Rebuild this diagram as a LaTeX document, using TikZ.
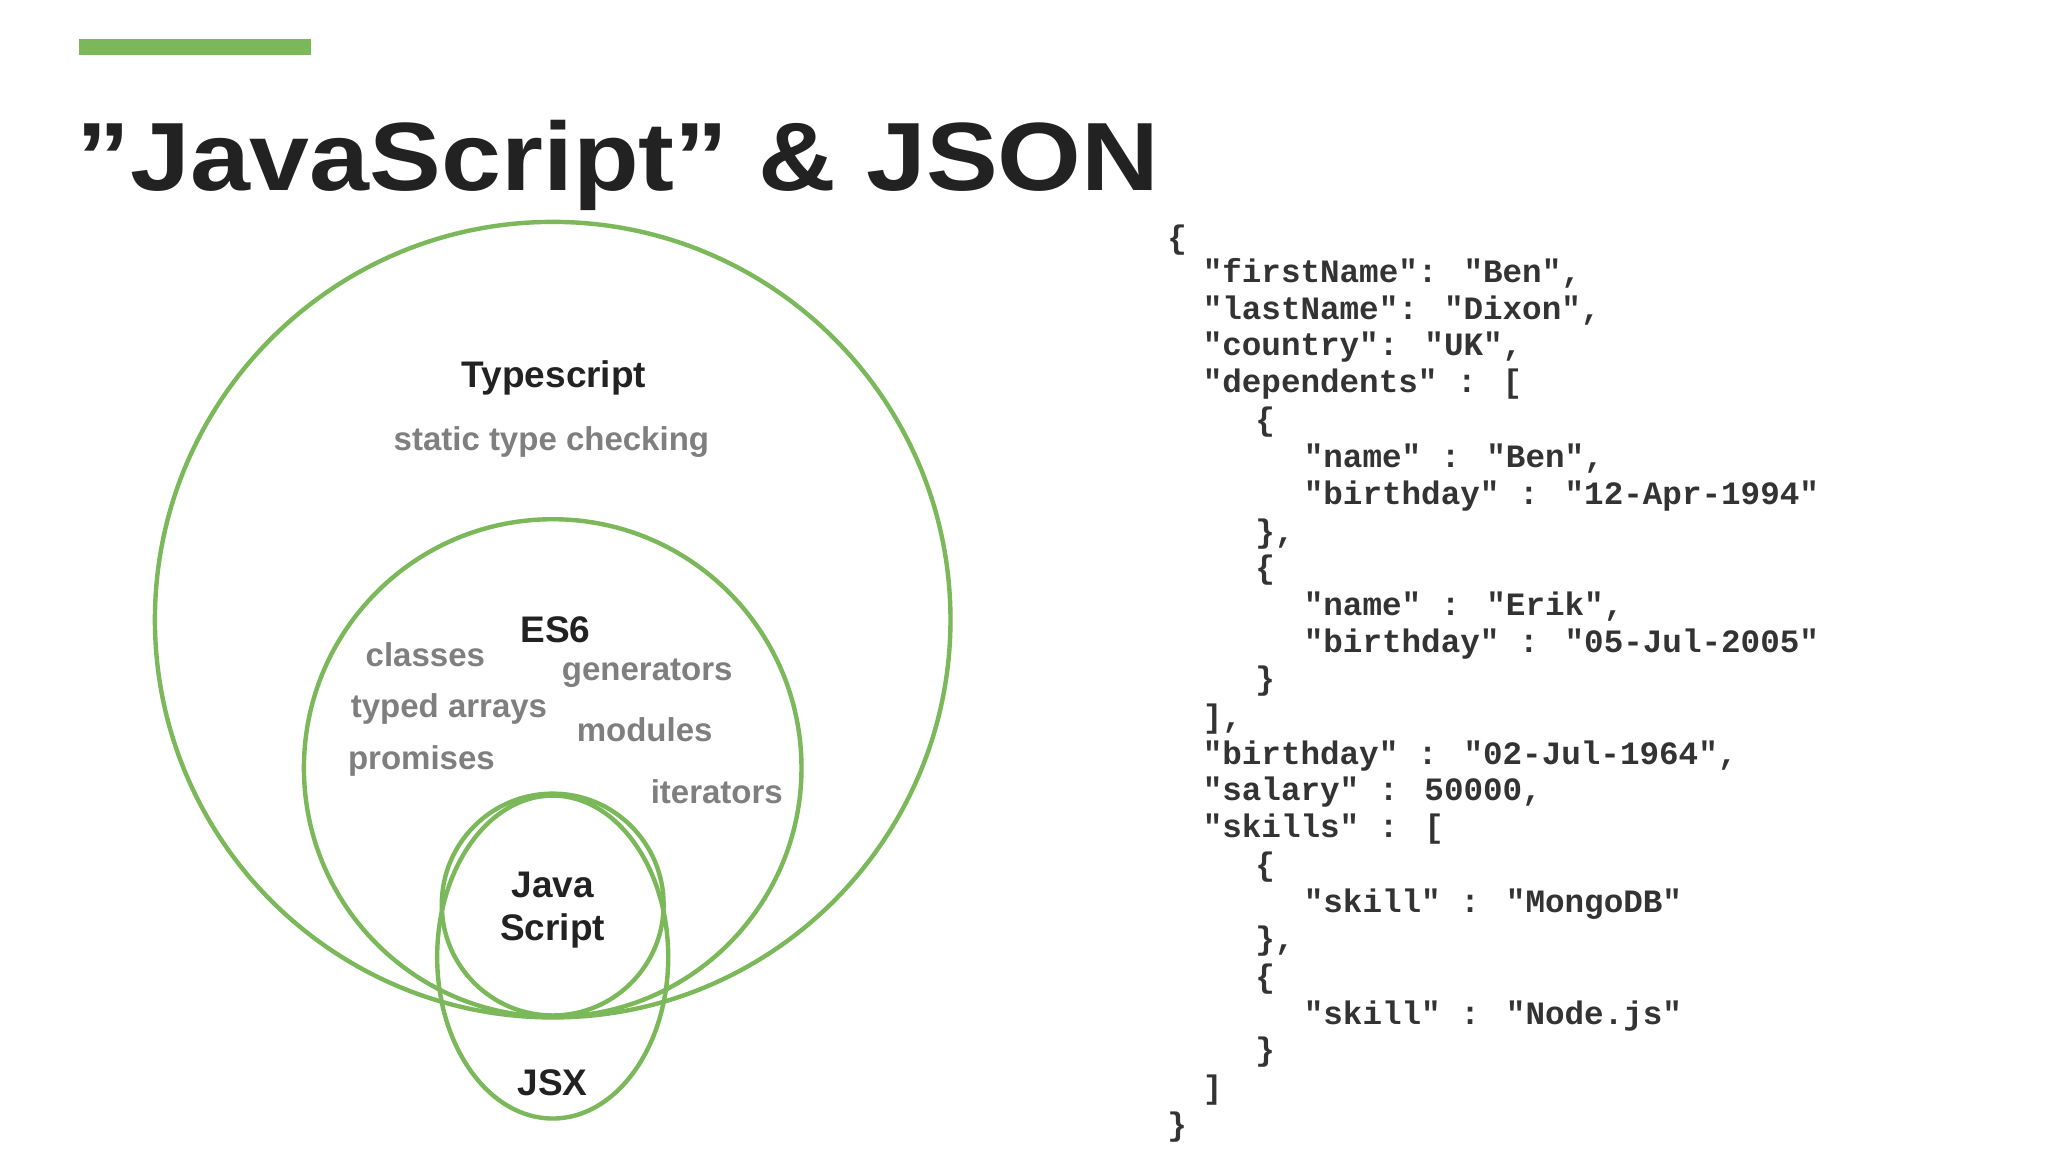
\documentclass[tikz,border=0pt]{standalone}
\usepackage{fontspec}
\setmainfont{Liberation Sans}
\newfontfamily\codefont{Liberation Mono}
\usetikzlibrary{shapes.geometric}
\definecolor{vgreen}{HTML}{7AB85A}
\definecolor{lbl}{HTML}{222222}
\definecolor{gry}{HTML}{7F7F7F}
\definecolor{code}{HTML}{333333}
\begin{document}
\begin{tikzpicture}[x=1.3128pt,y=-1.3128pt,
  ring/.style={circle,draw=vgreen,line width=4.4pt,inner sep=0pt},
  blk/.style={font=\fontsize{37}{40}\selectfont\bfseries,text=lbl,inner sep=0pt},
  gr/.style={font=\fontsize{33}{36}\selectfont\bfseries,text=gry,inner sep=0pt},
  cd/.style={font=\codefont\fontsize{32.6}{34}\selectfont\bfseries,text=code,anchor=base west,inner sep=0pt}]
\path[use as bounding box,fill=white] (0,0) rectangle (1560,877.5);
\fill[vgreen] (60,30) rectangle (237,42);
\node[anchor=base west,inner sep=0pt,font=\fontsize{97}{100}\selectfont\bfseries,text=lbl,xscale=1.11] (title) at (58,145) {\symbol{34}JavaScript\symbol{34} \& JSON};
% circles
\node[ring,minimum size=606*1.3128pt] (ts) at (421,472) {};
\node[ring,minimum size=379*1.3128pt] (es) at (421,585) {};
\node[ellipse,draw=vgreen,line width=4.4pt,inner sep=0pt,minimum width=176*1.3128pt,minimum height=246*1.3128pt] (jsx) at (421,729) {};
\node[ring,minimum size=169*1.3128pt] (js) at (421,689) {};
% labels
\node[blk] (tsl) at (422,288) {Typescript};
\node[gr] (stc) at (420,337) {static type checking};
\node[blk] (esl) at (423,480) {ES6};
\node[gr] (c1) at (324,499) {classes};
\node[gr] (c2) at (493,513) {generators};
\node[gr] (c3) at (342,540) {typed arrays};
\node[gr] (c4) at (491,556) {modules};
\node[gr] (c5) at (321,580) {promises};
\node[gr] (c6) at (546,603) {iterators};
\node[blk] (jsl1) at (421,674) {Java};
\node[blk] (jsl2) at (421,709) {Script};
\node[blk] (jsxl) at (421,825) {JSX};
% code
\node[cd] (l1) at (889,189) {\{};
\node[cd] (l2) at (916,215) {"firstName": "Ben",};
\node[cd] (l3) at (916,243) {"lastName": "Dixon",};
\node[cd] (l4) at (916,271) {"country": "UK",};
\node[cd] (l5) at (916,299) {"dependents" : [};
\node[cd] (l6) at (956,328) {\{};
\node[cd] (l7) at (993,356) {"name" : "Ben",};
\node[cd] (l8) at (993,384) {"birthday" : "12-Apr-1994"};
\node[cd] (l9) at (956,413) {\},};
\node[cd] (l10) at (956,441) {\{};
\node[cd] (l11) at (993,469) {"name" : "Erik",};
\node[cd] (l12) at (993,497) {"birthday" : "05-Jul-2005"};
\node[cd] (l13) at (956,525) {\}};
\node[cd] (l14) at (916,554) {],};
\node[cd] (l15) at (916,582) {"birthday" : "02-Jul-1964",};
\node[cd] (l16) at (916,610) {"salary" : 50000,};
\node[cd] (l17) at (916,638) {"skills" : [};
\node[cd] (l18) at (956,667) {\{};
\node[cd] (l19) at (993,695) {"skill" : "MongoDB"};
\node[cd] (l20) at (956,723) {\},};
\node[cd] (l21) at (956,752) {\{};
\node[cd] (l22) at (993,780) {"skill" : "Node.js"};
\node[cd] (l23) at (956,808) {\}};
\node[cd] (l24) at (916,837) {]};
\node[cd] (l25) at (889,865) {\}};
\end{tikzpicture}
\end{document}
